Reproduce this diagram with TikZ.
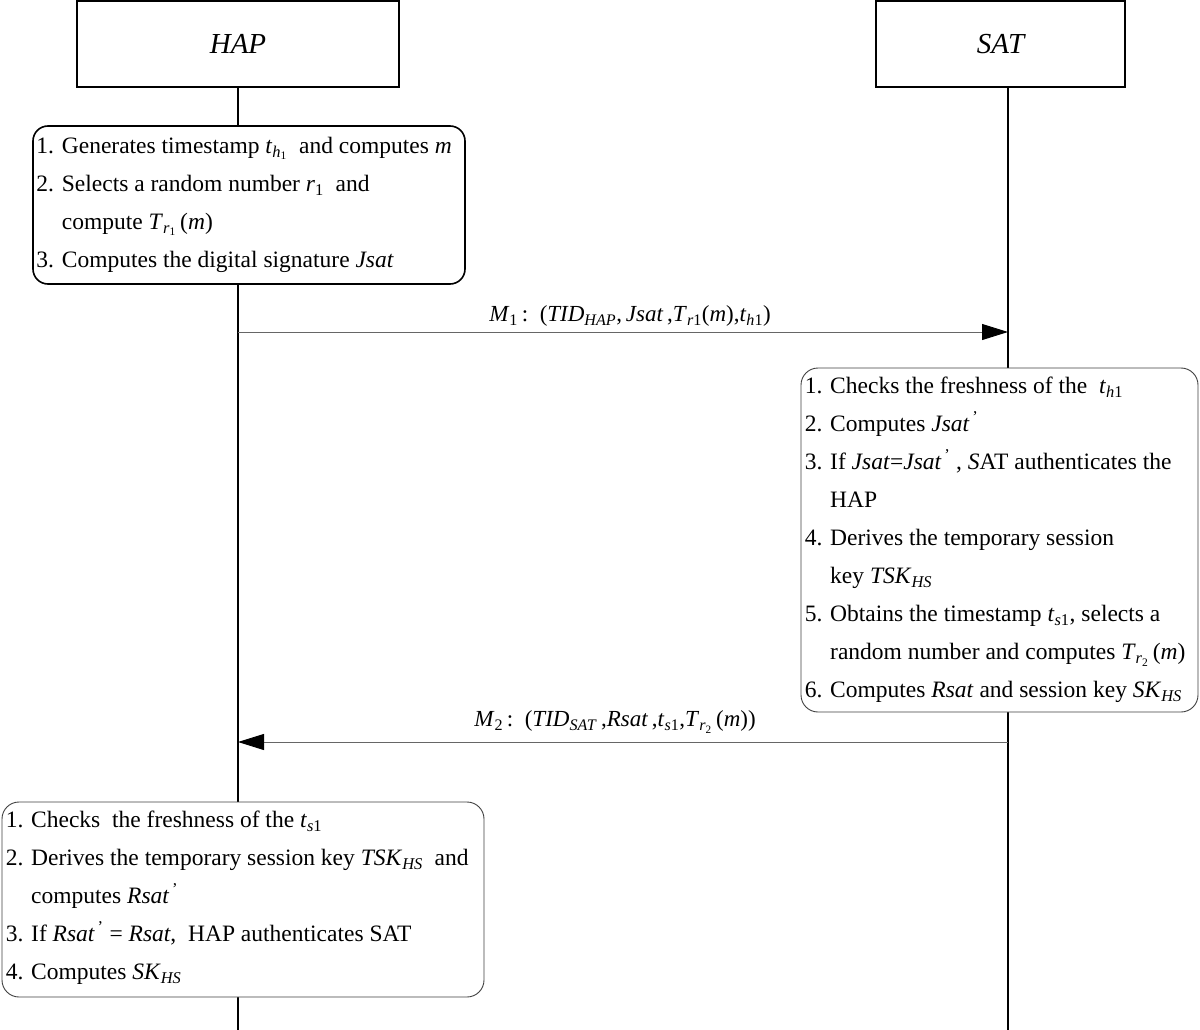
\documentclass[tikz,border=0pt]{standalone}
\usepackage{amsmath}
\usepackage{fontspec}
\setmainfont{Liberation Serif}
\usetikzlibrary{arrows.meta,calc}
\newcommand{\vi}[1]{\textit{#1}}
\newcommand{\lsb}[1]{\textsubscript{#1}}
\newcommand{\prm}{\textsuperscript{\,\textup{'}}}
\newcommand{\ind}{\phantom{2. }}
\begin{document}
\begin{tikzpicture}[x=1pt,y=-1pt,
  actor/.style={draw,line width=1.6pt,fill=white,minimum width=322pt,minimum height=86pt,inner sep=0pt,font=\fontsize{29}{32}\selectfont\itshape},
  life/.style={line width=1.6pt,black},
  hstep/.style={draw,line width=1.6pt,fill=white,rounded corners=15pt,inner sep=0pt},
  sstep/.style={draw=black!75,line width=0.9pt,fill=white,rounded corners=17pt,inner sep=0pt},
  txt/.style={align=left,inner sep=0pt,font=\fontsize{23.5}{38}\selectfont},
  lbl/.style={inner sep=0pt,font=\fontsize{23}{26}\selectfont},
  msg/.style={draw=black!60,line width=0.9pt,-{Triangle[length=26pt,width=16pt,color=black]}}]
\useasboundingbox (0,0) rectangle (1200,1030);
% actors
\node[actor] (hap) at (238,44) {HAP};
\node[actor,minimum width=249pt] (sat) at (1000.5,44) {SAT};
\coordinate (hapend) at (238,1030);
\coordinate (satend) at (1008,1030);
% lifelines
\draw[life] (hap.south) -- (hapend);
\draw[life] (sat.south -| satend) -- (satend);
% HAP step box
\node[hstep,minimum width=432pt,minimum height=158pt] (hapstep) at (249,205) {};
\node[txt,anchor=west] (hapsteptext) at ($(hapstep.west)+(4,0)$) {%
1. Generates timestamp \vi{t}\lsb{\vi{h}\lsb{1}}\ \ and computes \vi{m}\\
2. Selects a random number \vi{r}\lsb{1}\ \ and\\
\ind compute \vi{T}\lsb{\vi{r}\lsb{1}}\,(\vi{m})\\
3. Computes the digital signature \vi{Jsat}};
% M1
\coordinate (m1s) at (238,332);
\coordinate (m1e) at (1008,332);
\draw[msg] (m1s) -- (m1e);
\node[lbl] (m1lbl) at (630,316) {\vi{M}\lsb{1}\,:\ \ (\vi{TID}\lsb{\vi{HAP}},\,\vi{Jsat}\,,\vi{T}\lsb{\vi{r}1}(\vi{m}),\vi{t}\lsb{\vi{h}1})};
% SAT step box
\node[sstep,minimum width=397pt,minimum height=344pt] (satstep) at (999.5,540) {};
\node[txt,anchor=west] (satsteptext) at ($(satstep.west)+(4,0)$) {%
1. Checks the freshness of the\ \ \vi{t}\lsb{\vi{h}1}\\
2. Computes \vi{Jsat}\prm\\
3. If \vi{Jsat}=\vi{Jsat}\prm\ , \vi{S}AT authenticates the\\
\ind HAP\\
4. Derives the temporary session\\
\ind key \vi{TSK}\lsb{\vi{HS}}\\
5. Obtains the timestamp \vi{t}\lsb{\vi{s}1}, selects a\\
\ind random number and computes \vi{T}\lsb{\vi{r}\lsb{2}}\,(\vi{m})\\
6. Computes \vi{Rsat} and session key \vi{SK}\lsb{\vi{HS}}};
% M2
\coordinate (m2s) at (1008,742);
\coordinate (m2e) at (238,742);
\draw[msg] (m2s) -- (m2e);
\node[lbl] (m2lbl) at (615,722) {\vi{M}\lsb{2}\,:\ \ (\vi{TID}\lsb{\vi{SAT}}\,,\vi{Rsat}\,,\vi{t}\lsb{\vi{s}1},\vi{T}\lsb{\vi{r}\lsb{2}}\,(\vi{m}))};
% final HAP box
\node[sstep,minimum width=482pt,minimum height=195pt] (hapfinal) at (243,899.5) {};
\node[txt,anchor=west] (hapfinaltext) at ($(hapfinal.west)+(4,-2)$) {%
1. Checks\ \ the freshness of the \vi{t}\lsb{\vi{s}1}\\
2. Derives the temporary session key \vi{TSK}\lsb{\vi{HS}}\ \ and\\
\ind computes \vi{Rsat}\prm\\
3. If \vi{Rsat}\prm\ = \vi{Rsat},\ \ HAP authenticates SAT\\
4. Computes \vi{SK}\lsb{\vi{HS}}};
\end{tikzpicture}
\end{document}
